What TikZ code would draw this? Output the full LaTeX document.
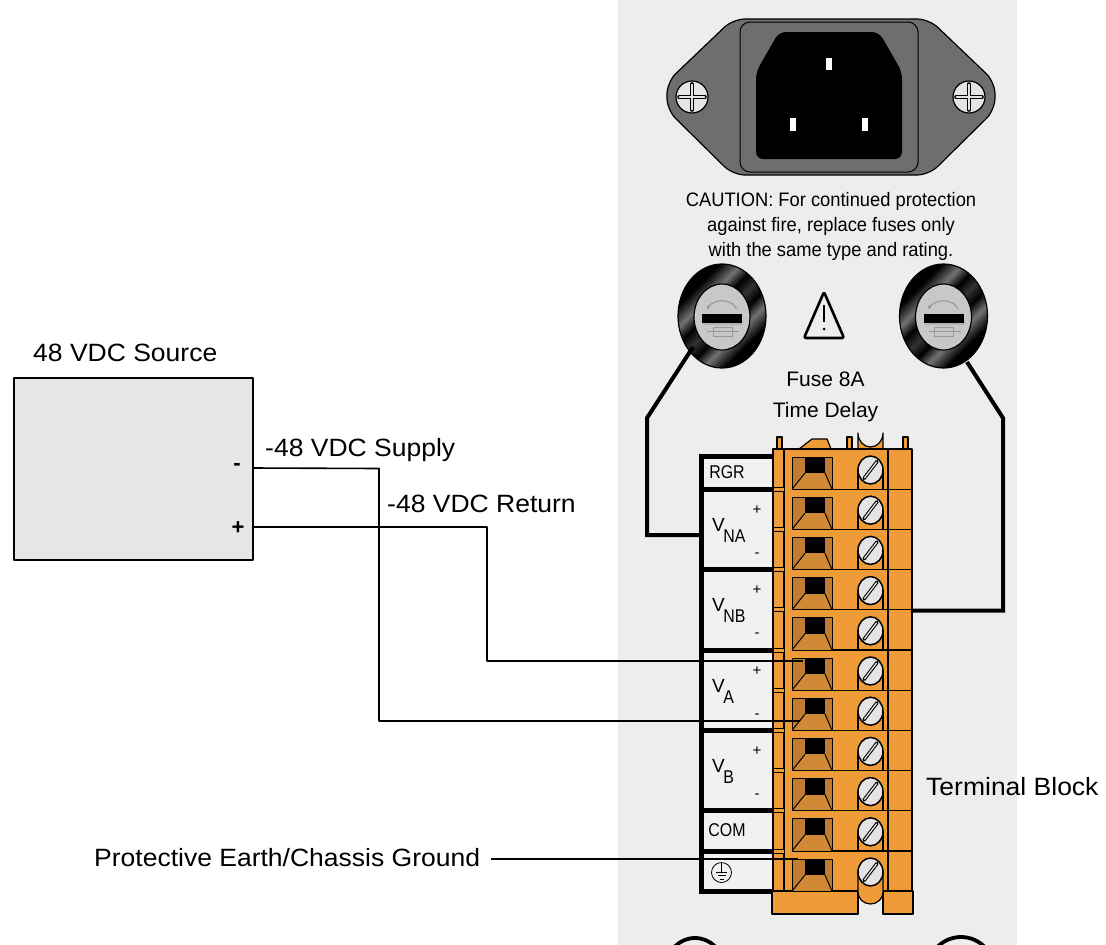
\documentclass[tikz,border=0pt]{standalone}
\usepackage{fontspec}
\setmainfont{Liberation Sans}
\newfontfamily\widefont[FakeStretch=1.06]{Liberation Sans}
\newfontfamily\cautionfont[FakeStretch=0.94]{Liberation Sans}
\newfontfamily\narrowfont[FakeStretch=0.86]{Liberation Sans}
\usetikzlibrary{arrows.meta}
\definecolor{panelgray}{RGB}{237,237,237}
\definecolor{flange}{RGB}{110,110,110}
\definecolor{screwgray}{RGB}{228,228,228}
\definecolor{fuseinner}{RGB}{200,200,200}
\definecolor{tborange}{RGB}{239,155,56}
\definecolor{tbbrown}{RGB}{190,125,48}
\definecolor{tbtrap}{RGB}{208,137,52}
\definecolor{cellgray}{RGB}{241,241,241}
\definecolor{srcgray}{RGB}{230,230,230}
\pgfdeclareverticalshading{ringshade}{100bp}{color(0bp)=(black); color(30bp)=(black); color(38bp)=(black!55); color(44bp)=(black); color(50bp)=(black!80); color(56bp)=(black); color(62bp)=(black!55); color(70bp)=(black); color(100bp)=(black)}
\tikzset{
  wire/.style={line width=1.6pt},
  gndwire/.style={line width=2.6pt},
  fusewire/.style={line width=4pt, line join=miter},
  biglabel/.style={font=\widefont\fontsize{25}{28}\selectfont, inner sep=0pt, anchor=base west},
  cautiontext/.style={font=\cautionfont\fontsize{19.5}{24}\selectfont, inner sep=0pt, anchor=base},
  fusetext/.style={font=\fontsize{21}{25}\selectfont, inner sep=0pt, anchor=base},
  celltext/.style={font=\narrowfont\fontsize{18.5}{20}\selectfont, inner sep=0pt},
  vtext/.style={font=\fontsize{19}{20}\selectfont, inner sep=0pt, anchor=base west},
  pmtext/.style={font=\fontsize{15}{18}\selectfont, inner sep=0pt},
  tbpart/.style={fill=tborange, draw=black, line width=1.2pt},
  framebar/.style={line width=5pt},
}
\begin{document}
\begin{tikzpicture}[x=1pt,y=-1pt,line join=round]
\useasboundingbox (0,0) rectangle (1106,945);
\clip (0,0) rectangle (1106,945);
\fill[white] (0,0) rectangle (1106,945);
% panel
\fill[panelgray] (618,0) rectangle (1017,945);

% ---------- power inlet ----------
\filldraw[fill=flange, draw=black, line width=1.2pt, rounded corners=12pt]
  (733,19) -- (929,19) -- (995,82) -- (995,110) -- (929,175) -- (733,175) -- (667,110) -- (667,82) -- cycle;
\filldraw[fill=flange, draw=black, line width=1pt, rounded corners=10pt] (740,22) rectangle (918,172);
\fill[black, rounded corners=7pt] (756,72) -- (779,32) -- (879,32) -- (902,72) -- (902,159) -- (756,159) -- cycle;
\fill[white] (826,58) rectangle (832,70);
\fill[white] (790,118) rectangle (796,131);
\fill[white] (862,118) rectangle (868,131);
\foreach \sx in {692,969}{
  \filldraw[fill=screwgray, draw=black, line width=1.2pt] (\sx,97) circle (16pt);
  \draw[line width=3.6pt, line cap=round] (\sx-13,97) -- (\sx+13,97) (\sx,84) -- (\sx,110);
  \draw[line width=1.6pt, screwgray, line cap=round] (\sx-12.5,97) -- (\sx+12.5,97) (\sx,84.5) -- (\sx,109.5);
}

% ---------- caution text ----------
\node[cautiontext] (caution1) at (831,206) {CAUTION: For continued protection};
\node[cautiontext] (caution2) at (831,231) {against fire, replace fuses only};
\node[cautiontext] (caution3) at (831,256) {with the same type and rating.};

% ---------- fuse holders ----------
\foreach \fx in {722,943.5}{
  \shade[shading=ringshade, shading angle=45]
    (\fx,316) ellipse [x radius=44pt, y radius=52pt];
  \draw[line width=1.2pt] (\fx,316) ellipse [x radius=44pt, y radius=52pt];
  \filldraw[fill=fuseinner, draw=black, line width=1.2pt] (\fx,317) ellipse [x radius=28pt, y radius=33pt];
  \draw[gray!85, line width=1pt, -{Stealth[length=4pt,width=4pt]}]
    (\fx+14.5,309) arc[start angle=15, end angle=168, x radius=15pt, y radius=11pt];
  \fill[gray!60] (\fx-19,320) rectangle (\fx+21,325);
  \fill[black] (\fx-20,314) rectangle (\fx+20,323);
  \draw[gray!80, line width=0.9pt] (\fx-15,331.5) -- (\fx+17,331.5);
  \draw[gray!80, line width=0.9pt] (\fx-9,327) rectangle (\fx+10,336);
}
\coordinate (fuseL) at (693,347);
\coordinate (fuseR) at (967,362);

% warning sign
\draw[line width=2.6pt, rounded corners=2pt] (824,292) -- (844,338) -- (804,338) -- cycle;
\draw[line width=2.2pt] (824,305) -- (824,322);
\fill (824,329) circle (1.5pt);

\node[fusetext] (fuse1) at (825.5,386) {Fuse 8A};
\node[fusetext] (fuse2) at (825.5,417) {Time Delay};

% ---------- terminal block: label frame ----------
\fill[cellgray] (701,456) rectangle (773,891);
\draw[framebar, line join=miter] (773,456) -- (701,456) -- (701,891) -- (773,891);
\foreach \g in {1,3,5,7,9,10}{
  \pgfmathsetmacro\Y{449+40.2*\g}
  \draw[framebar] (701,\Y) -- (774,\Y);
}

% top features
\filldraw[tbpart] (777,437) rectangle (782,449);
\filldraw[tbpart] (847,437) rectangle (852,449);
\filldraw[tbpart] (903,437) rectangle (908,449);
\filldraw[tbpart] (799,449) -- (812,439) -- (827,439) -- (831,449) -- cycle;
\filldraw[tbpart] (858,449) -- (858,433) arc[start angle=180, end angle=360, x radius=12.5pt, y radius=14pt] -- (883,449) -- cycle;

% body
\filldraw[tbpart] (773,449) rectangle (912,891);
\filldraw[tbpart] (772,891) rectangle (858,914);
\filldraw[tbpart] (883,891) rectangle (913,914);
\draw[line width=1.2pt] (784,449) -- (784,891);
\draw[line width=1.2pt] (888,449) -- (888,891);
\foreach \k in {1,...,10}{
  \pgfmathsetmacro\B{449+40.2*\k}
  \draw[line width=1.2pt] (792,\B) -- (912,\B);
  \filldraw[fill=tborange, draw=black, line width=0.8pt] (773,\B-2) rectangle (784,\B+2);
}
% wire openings
\foreach \k in {0,...,10}{
  \pgfmathsetmacro\T{449+40.2*\k}
  \fill[tbbrown] (792,\T+8) rectangle (832,\T+40.2);
  \fill[tbtrap] (805,\T+24) -- (825,\T+24) -- (832,\T+40.2) -- (792,\T+40.2) -- cycle;
  \fill[black] (805,\T+8) rectangle (825,\T+24);
  \draw[line width=1pt] (792,\T+8) rectangle (832,\T+40.2);
  \draw[line width=1pt] (805,\T+24) -- (792,\T+40.2) (825,\T+24) -- (832,\T+40.2);
}
% screw stems
\foreach \k in {0,...,9}{
  \pgfmathsetmacro\T{449+40.2*\k}
  \filldraw[tbpart] (858,\T+21) rectangle (883,\T+40.2);
}
\filldraw[tbpart] (858,870) -- (858,892) arc[start angle=180, end angle=360, x radius=12.5pt, y radius=12pt] -- (883,870) -- cycle;
% screw heads
\foreach \k in {0,...,10}{
  \pgfmathsetmacro\T{449+40.2*\k}
  \filldraw[fill=screwgray, draw=black, line width=1.5pt] (870.5,\T+21) ellipse [x radius=12.5pt, y radius=14pt];
  \draw[line width=3.4pt, line cap=round] (864,\T+29.5) -- (877,\T+12.5);
  \draw[line width=1.3pt, screwgray, shorten >=0.6pt, shorten <=0.6pt] (864,\T+29.5) -- (877,\T+12.5);
}

% cell labels
\node[celltext] (rgr) at (727,472) {RGR};
\foreach \G/\sub/\nm in {489/NA/vna, 569.4/NB/vnb, 649.8/A/va, 730.2/B/vb}{
  \node[vtext] (\nm V) at (712,\G+42.5) {V\kern-1.5pt\raisebox{-11pt}{\narrowfont\fontsize{18.5}{20}\selectfont\sub}};
  \node[pmtext] (\nm P) at (757,\G+21) {+};
  \node[pmtext] (\nm M) at (757,\G+66) {-};
}
\node[celltext] (com) at (727,830) {COM};
\draw[line width=0.8pt] (721.5,872.5) circle (10pt);
\draw[line width=0.8pt] (721.5,862.5) -- (721.5,871.5);
\draw[line width=0.8pt] (716,872) -- (727,872) (717.5,875.7) -- (725.5,875.7) (719.5,879.2) -- (723.5,879.2);

% ---------- fuse wires ----------
\coordinate (vnaIn) at (700,535);
\coordinate (vnbOut) at (912,610.5);
\draw[fusewire] (fuseL) -- (647,418) |- (vnaIn);
\draw[fusewire] (fuseR) -- (1003,418) |- (vnbOut);

% ---------- source ----------
\node[draw=black, line width=2.2pt, fill=srcgray, minimum width=239pt, minimum height=182pt, inner sep=0pt, anchor=north west] (src) at (13,377) {};
\node[biglabel] (srcLabel) at (33,361) {48 VDC Source};
\node[font=\bfseries\fontsize{22}{24}\selectfont, inner sep=0pt] (srcM) at (237,467) {-};
\node[font=\bfseries\fontsize{22}{24}\selectfont, inner sep=0pt] (srcP) at (238,528) {+};
\coordinate (srcMinus) at (252,468);
\coordinate (srcPlus) at (252,527);
\coordinate (vaPlusIn) at (803,661);
\coordinate (vaMinusIn) at (800,721);
\draw[wire] (srcMinus) -- (379,468.5) |- (vaMinusIn);
\draw[wire] (srcPlus) -- (487,527) |- (vaPlusIn);
\node[biglabel] (supplyLabel) at (265,456) {-48 VDC Supply};
\node[biglabel] (returnLabel) at (387,512) {-48 VDC Return};

% ---------- ground ----------
\node[biglabel] (peLabel) at (94,866) {Protective Earth/Chassis Ground};
\coordinate (peStart) at (491,859);
\coordinate (gndIn) at (798,859);
\draw[gndwire] (peStart) -- (gndIn);

\node[biglabel] (tbLabel) at (926,795) {Terminal Block};

% bottom circles
\draw[line width=3.8pt] (695,966) circle (28pt);
\draw[line width=3.8pt] (961,970) circle (33pt);
\end{tikzpicture}
\end{document}
